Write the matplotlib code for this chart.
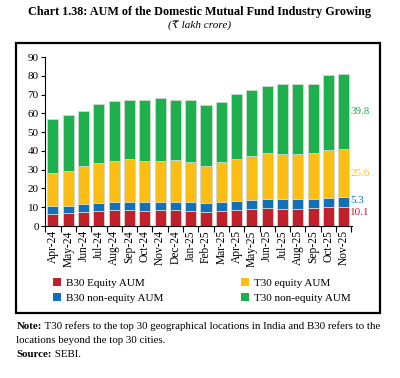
import numpy as np
import matplotlib.pyplot as plt
from matplotlib.patches import Patch, Rectangle

plt.rcParams['font.family'] = ['Liberation Serif', 'DejaVu Serif']

# Місяці
months = ['Apr-24', 'May-24', 'Jun-24', 'Jul-24', 'Aug-24', 'Sep-24', 'Oct-24',
          'Nov-24', 'Dec-24', 'Jan-25', 'Feb-25', 'Mar-25', 'Apr-25', 'May-25',
          'Jun-25', 'Jul-25', 'Aug-25', 'Sep-25', 'Oct-25', 'Nov-25']

# AUM, ₹ lakh crore
b30_equity = [6.6, 6.8, 7.7, 8.0, 8.4, 8.7, 8.2, 8.6, 8.6, 8.0,
              7.7, 8.2, 8.7, 9.1, 9.6, 9.3, 9.3, 9.4, 10.0, 10.1]
b30_nonequity = [4.1, 4.1, 3.9, 4.3, 4.3, 4.1, 4.5, 4.1, 4.1, 4.7,
                 4.4, 4.6, 4.7, 4.8, 4.8, 5.1, 5.1, 5.0, 5.2, 5.3]
t30_equity = [17.8, 18.5, 20.3, 21.4, 22.1, 23.0, 21.7, 22.2, 22.4, 21.3,
              19.8, 21.2, 22.3, 23.4, 24.3, 24.1, 23.9, 24.5, 25.4, 25.6]
t30_nonequity = [28.7, 29.6, 29.2, 31.4, 32.0, 31.4, 33.0, 33.2, 31.9, 33.4,
                 32.8, 32.1, 34.5, 35.1, 35.8, 37.1, 37.1, 37.0, 39.6, 39.8]

names = ['B30 Equity AUM', 'B30 non-equity AUM', 'T30 equity AUM', 'T30 non-equity AUM']
colors = ['#C1202B', '#1170B8', '#FCBE12', '#1EB04D']
series = [b30_equity, b30_nonequity, t30_equity, t30_nonequity]

fig = plt.figure(figsize=(4, 3.78), dpi=100)
ax = fig.add_axes([0.1125, 0.402, 0.7675, 0.447])

x = np.arange(len(months))
bottom = np.zeros(len(months))
for vals, c in zip(series, colors):
    ax.bar(x, vals, 0.72, bottom=bottom, color=c, edgecolor='#cfd8cf', linewidth=0.6)
    bottom += np.array(vals)

# Підписи останніх значень
last = len(months) - 1
base = 0
nudges = [2.0, 0.7, 0.0, 0.0]
for vals, c, dy in zip(series, colors, nudges):
    v = vals[last]
    ax.text(last + 0.42, base + v / 2 + dy, f'{v:.1f}', color=c, fontsize=8,
            ha='left', va='center')
    base += v

ax.set_xlim(-0.52, 19.54)
ax.set_ylim(0, 90)
ax.set_yticks(range(0, 91, 10))
ax.set_xticks(x)
ax.set_xticklabels(months, rotation=90, fontsize=8.3)
ax.set_xticks(np.arange(-0.5, 20, 1), minor=True)
ax.tick_params(axis='x', which='major', length=0, pad=3)
ax.tick_params(axis='x', which='minor', length=4, width=0.8)
ax.tick_params(axis='y', labelsize=8, length=3, width=0.8, pad=1.5)
for s in ['top', 'right']:
    ax.spines[s].set_visible(False)
for s in ['left', 'bottom']:
    ax.spines[s].set_linewidth(0.8)

handles = [Patch(facecolor=c, edgecolor='none') for c in colors]
fig.legend(handles, names, ncol=2, loc='upper left', bbox_to_anchor=(0.132, 1 - 278 / 378),
           bbox_transform=fig.transFigure, frameon=False, fontsize=8,
           handlelength=0.75, handleheight=0.75, handletextpad=0.4,
           columnspacing=7.0, labelspacing=0.45, borderpad=0, borderaxespad=0)

# Рамка
fig.patches.append(Rectangle((0.041, 1 - 313 / 378), 0.909, (313 - 43) / 378,
                             transform=fig.transFigure, fill=False, edgecolor='black',
                             linewidth=1.6))

fig.text(0.5, 1 - 12 / 378, 'Chart 1.38: AUM of the Domestic Mutual Fund Industry Growing',
         ha='center', va='center', fontsize=8.7, fontweight='bold')
fig.text(0.5, 1 - 26 / 378, '(₹ lakh crore)', ha='center', va='center',
         fontsize=8, style='italic')

note = fig.text(0.041, 1 - 331 / 378, 'Note:', fontsize=7.8, fontweight='bold', va='bottom')
ax.annotate(' T30 refers to the top 30 geographical locations in India and B30 refers to the',
            xy=(1, 0), xycoords=note, fontsize=7.8, va='bottom', ha='left',
            annotation_clip=False)
fig.text(0.041, 1 - 345 / 378, 'locations beyond the top 30 cities.', fontsize=7.8, va='bottom')
src = fig.text(0.041, 1 - 359 / 378, 'Source:', fontsize=7.8, fontweight='bold', va='bottom')
ax.annotate(' SEBI.', xy=(1, 0), xycoords=src, fontsize=7.8, va='bottom', ha='left',
            annotation_clip=False)

plt.savefig('out.png', dpi=100)
